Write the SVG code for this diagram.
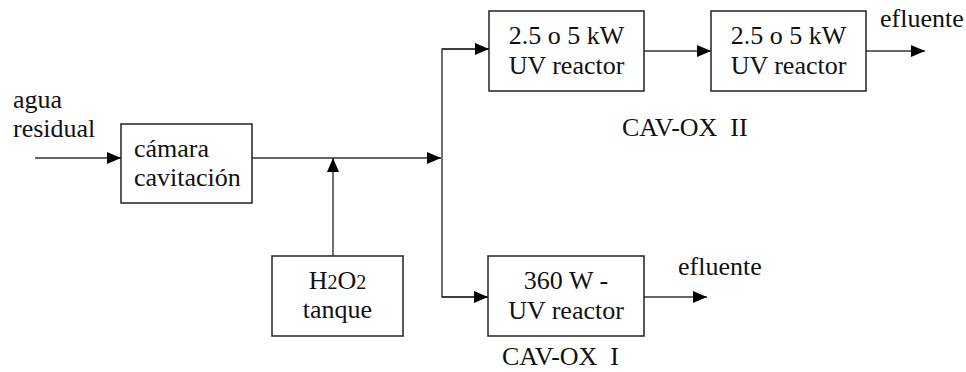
<svg xmlns="http://www.w3.org/2000/svg" width="966" height="372" viewBox="0 0 966 372">
<style>
text{font-family:'Liberation Serif','Times New Roman',Times,'DejaVu Serif',serif;font-size:26px;fill:#111;white-space:pre}
.c{text-anchor:middle}
.box{fill:#fff;stroke:#222;stroke-width:1.5}
.ln{fill:none;stroke:#333;stroke-width:1.4}
</style>
<defs>
<marker id="ah" viewBox="0 0 14 12" refX="14" refY="6" markerWidth="14" markerHeight="12" markerUnits="userSpaceOnUse" orient="auto">
<path d="M0,0 L14,6 L0,12 Z" fill="#000"/>
</marker>
</defs>
<rect width="966" height="372" fill="#fff"/>
<g id="connectors">
<line class="ln" x1="35" y1="158" x2="121" y2="158" marker-end="url(#ah)"/>
<line class="ln" x1="252" y1="158" x2="441" y2="158" marker-end="url(#ah)"/>
<line class="ln" x1="333" y1="256" x2="333" y2="158" marker-end="url(#ah)"/>
<polyline class="ln" points="489,49 442,49 442,297 488,297"/>
<line class="ln" x1="442" y1="49" x2="489" y2="49" marker-end="url(#ah)"/>
<line class="ln" x1="442" y1="297" x2="488" y2="297" marker-end="url(#ah)"/>
<line class="ln" x1="644" y1="51" x2="711" y2="51" marker-end="url(#ah)"/>
<line class="ln" x1="866" y1="51" x2="925" y2="51" marker-end="url(#ah)"/>
<line class="ln" x1="644" y1="297" x2="707" y2="297" marker-end="url(#ah)"/>
</g>
<g id="input-label">
<text x="13" y="108">agua</text>
<text x="13" y="137">residual</text>
</g>
<g id="camara">
<rect class="box" x="121" y="124" width="131" height="79"/>
<text x="134" y="157">cámara</text>
<text x="134" y="186">cavitación</text>
</g>
<g id="h2o2">
<rect class="box" x="272" y="256" width="131" height="80"/>
<text class="c" x="337.5" y="289">H<tspan font-size="20">2</tspan>O<tspan font-size="20">2</tspan></text>
<text class="c" x="337.5" y="318">tanque</text>
</g>
<g id="uv1">
<rect class="box" x="489" y="11" width="155" height="80"/>
<text class="c" x="566.5" y="44">2.5 o 5 kW</text>
<text class="c" x="566.5" y="74">UV reactor</text>
</g>
<g id="uv2">
<rect class="box" x="711" y="11" width="155" height="80"/>
<text class="c" x="788.5" y="44">2.5 o 5 kW</text>
<text class="c" x="788.5" y="74">UV reactor</text>
</g>
<g id="uv360">
<rect class="box" x="488" y="256" width="156" height="80"/>
<text class="c" x="566" y="289">360 W -</text>
<text class="c" x="566" y="319">UV reactor</text>
</g>
<g id="labels">
<text x="880" y="27">efluente</text>
<text x="678" y="275">efluente</text>
<text x="622" y="136">CAV-OX  II</text>
<text x="502" y="365">CAV-OX  I</text>
</g>
</svg>
